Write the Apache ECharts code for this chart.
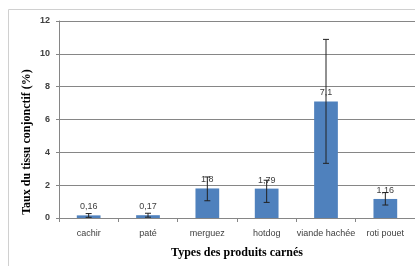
<!DOCTYPE html>
<html>
<head>
<meta charset="utf-8">
<script src="https://cdn.jsdelivr.net/npm/echarts@6/dist/echarts.min.js"></script>
<style>
  html, body { margin: 0; padding: 0; background: #fff; }
  #chart { width: 415px; height: 266px; }
</style>
</head>
<body>
<div id="chart"></div>
<script>
var categories = ['cachir', 'paté', 'merguez', 'hotdog', 'viande hachée', 'roti pouet']
var values = [0.16, 0.17, 1.8, 1.79, 7.1, 1.16]
var errLow = [0.04, 0.05, 1.05, 0.95, 3.33, 0.79]
var errHigh = [0.27, 0.29, 2.5, 2.3, 10.88, 1.55]
var yTicks = [0, 2, 4, 6, 8, 10, 12]

var myChart = echarts.init(document.getElementById('chart'))

var errData = categories.map(function (c, i) {
  return [i, errLow[i], errHigh[i]]
})

var option = {
  animation: false,
  textStyle: { fontFamily: 'Liberation Sans' },
  graphic: [
    {
      type: 'rect',
      shape: { x: 8.5, y: 9.5, width: 420, height: 270 },
      style: { fill: 'none', stroke: '#d0d0d0', lineWidth: 1 },
      silent: true
    },
    {
      type: 'text',
      x: 27,
      y: 142,
      rotation: Math.PI / 2,
      style: {
        text: 'Taux du tissu conjonctif (%)',
        font: 'bold 12px "Liberation Serif"',
        fill: '#000',
        align: 'center',
        verticalAlign: 'middle'
      }
    }
  ],
  grid: {
    left: 59,
    top: 21,
    width: 359,
    height: 197
  },
  xAxis: {
    type: 'category',
    data: categories,
    name: 'Types des produits carnés',
    nameLocation: 'middle',
    nameGap: 29,
    nameTextStyle: {
      fontFamily: 'Liberation Serif',
      fontWeight: 'bold',
      fontSize: 12,
      color: '#000'
    },
    axisLine: { lineStyle: { color: '#868686', width: 1 } },
    axisTick: { show: true, length: 4, lineStyle: { color: '#868686' } },
    axisLabel: { margin: 11, fontSize: 9, color: '#404040', interval: 0 }
  },
  yAxis: {
    type: 'value',
    min: 0,
    max: 12,
    interval: 2,
    axisLine: { show: true, lineStyle: { color: '#868686', width: 1 } },
    axisTick: { show: true, length: 3, lineStyle: { color: '#868686' } },
    axisLabel: {
      margin: 9,
      fontSize: 9,
      fontWeight: 'bold',
      color: '#404040',
      formatter: function (v) { return yTicks.indexOf(v) >= 0 ? String(v) : '' }
    },
    splitLine: { lineStyle: { color: '#868686', width: 1 } }
  },
  series: [
    {
      type: 'bar',
      data: values,
      barWidth: '40%',
      itemStyle: { color: '#4f81bd' },
      label: {
        show: true,
        position: 'top',
        distance: 4,
        fontSize: 9,
        color: '#404040',
        formatter: function (p) { return String(p.value).replace('.', ',') }
      }
    },
    {
      type: 'custom',
      data: errData,
      z: 10,
      renderItem: function (params, api) {
        var x = api.value(0)
        var lo = api.coord([x, api.value(1)])
        var hi = api.coord([x, api.value(2)])
        var cap = 3
        var style = { stroke: '#222', lineWidth: 1 }
        return {
          type: 'group',
          children: [
            { type: 'line', shape: { x1: lo[0], y1: lo[1], x2: hi[0], y2: hi[1] }, style: style },
            { type: 'line', shape: { x1: lo[0] - cap, y1: lo[1], x2: lo[0] + cap, y2: lo[1] }, style: style },
            { type: 'line', shape: { x1: hi[0] - cap, y1: hi[1], x2: hi[0] + cap, y2: hi[1] }, style: style }
          ]
        }
      }
    }
  ]
}

myChart.setOption(option)
</script>
</body>
</html>
